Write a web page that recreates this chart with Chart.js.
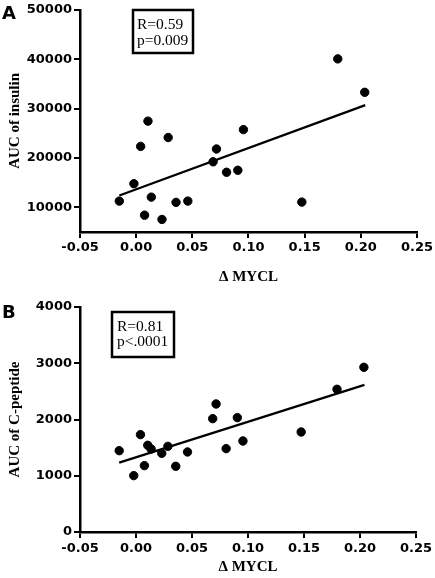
<!DOCTYPE html>
<html>
<head>
<meta charset="utf-8">
<script src="https://cdn.jsdelivr.net/npm/chart.js@4"></script>
<style>
  html, body { margin: 0; padding: 0; background: #fff; }
  .panel { position: absolute; left: 0; width: 435px; }
  #boxA { top: 0; height: 290px; }
  #boxB { top: 290px; height: 288px; }
</style>
</head>
<body>
<div class="panel" id="boxA"><canvas id="chartA"></canvas></div>
<div class="panel" id="boxB"><canvas id="chartB"></canvas></div>
<script>
// delta MYCL for each subject (same subjects in both panels)
const mycl = [-0.015, -0.002, 0.004, 0.0075, 0.0105, 0.0135, 0.023, 0.0285, 0.0355,
  0.046, 0.0685, 0.0715, 0.0805, 0.0905, 0.0955, 0.1475, 0.1795, 0.2035];
const aucInsulin = [11260, 14780, 22340, 8410, 27450, 12060, 7545, 24130, 11000,
  11260, 19220, 21810, 17100, 17500, 25730, 11060, 40060, 33290];
const aucCpeptide = [1446, 1002, 1731, 1180, 1541, 1476, 1399, 1523, 1168,
  1423, 2015, 2276, 1482, 2033, 1618, 1778, 2537, 2928];

// regression line ends
const fitX = [-0.015, 0.204];
const fitInsulin = [12400, 30700];
const fitCpeptide = [1235, 2614];

const xTicks = [-0.05, 0, 0.05, 0.10, 0.15, 0.20, 0.25];
const yTicksA = [10000, 20000, 30000, 40000, 50000];
const yTicksB = [0, 1000, 2000, 3000, 4000];

const statsA = ['R=0.59', 'p=0.009'];
const statsB = ['R=0.81', 'p<.0001'];

const tickFont = { family: '"DejaVu Sans", sans-serif', size: 13, weight: 'bold' };
const titleFont = { family: '"Liberation Serif", "Times New Roman", serif', size: 15, weight: 'bold' };

const panelDeco = {
  id: 'panelDeco',
  afterDraw(chart, args, o) {
    const ctx = chart.ctx;
    ctx.save();
    ctx.fillStyle = '#000';
    ctx.font = 'bold 18px "DejaVu Sans", sans-serif';
    ctx.textBaseline = 'alphabetic';
    ctx.textAlign = 'left';
    ctx.fillText(o.letter, 2, o.letterY);
    // stats box
    ctx.lineWidth = 2.5;
    ctx.strokeStyle = '#000';
    ctx.strokeRect(o.box[0], o.box[1], o.box[2], o.box[3]);
    ctx.font = '15.5px "Liberation Serif", "Times New Roman", serif';
    o.lines.forEach((t, i) => ctx.fillText(t, o.textX, o.textY[i]));
    ctx.restore();
  }
};

function makeChart(id, yVals, fitY, yTicks, yMin, yMax, yTitle, deco, lay) {
  const pts = mycl.map((x, i) => ({ x: x, y: yVals[i] }));
  const line = fitX.map((x, i) => ({ x: x, y: fitY[i] }));
  return new Chart(document.getElementById(id), {
    type: 'scatter',
    data: {
      datasets: [
        { data: pts, backgroundColor: '#000', borderColor: '#000', pointRadius: 4.2, pointHoverRadius: 4.2 },
        { type: 'line', data: line, borderColor: '#000', borderWidth: 2.3, pointRadius: 0, fill: false }
      ]
    },
    options: {
      responsive: true,
      maintainAspectRatio: false,
      animation: false,
      layout: { padding: { top: lay.top, right: 17, left: 0, bottom: 0 } },
      plugins: {
        legend: { display: false },
        tooltip: { enabled: false },
        panelDeco: deco
      },
      scales: {
        x: {
          type: 'linear',
          min: -0.05,
          max: 0.25,
          afterBuildTicks: s => { s.ticks = xTicks.map(v => ({ value: v })); },
          afterFit: s => { s.height = lay.xh; },
          ticks: {
            color: '#000',
            font: tickFont,
            padding: lay.xpad,
            maxRotation: 0,
            callback: v => v.toFixed(2)
          },
          grid: { drawOnChartArea: false, color: '#000', lineWidth: 2, tickLength: 6 },
          border: { color: '#000', width: 2.5 },
          title: {
            display: true,
            text: '\u0394 MYCL',
            color: '#000',
            font: titleFont,
            padding: { top: 0, bottom: lay.tpad }
          }
        },
        y: {
          min: yMin,
          max: yMax,
          afterBuildTicks: s => { s.ticks = yTicks.map(v => ({ value: v })); },
          afterFit: s => { s.width = 80; },
          ticks: {
            color: '#000',
            font: tickFont,
            padding: 2,
            callback: v => String(v)
          },
          grid: { drawOnChartArea: false, color: '#000', lineWidth: 2, tickLength: 6 },
          border: { color: '#000', width: 2.5 },
          title: {
            display: true,
            text: yTitle,
            color: '#000',
            font: titleFont,
            padding: { top: 6, bottom: 0 }
          }
        }
      }
    },
    plugins: [panelDeco]
  });
}

makeChart('chartA', aucInsulin, fitInsulin, yTicksA, 5000, 50000, 'AUC of insulin',
  { letter: 'A', letterY: 19, box: [133, 10, 60, 43], lines: statsA, textX: 137, textY: [29, 44.5] },
  { top: 7, xh: 58, xpad: 2, tpad: 4 });

makeChart('chartB', aucCpeptide, fitCpeptide, yTicksB, 0, 4000, 'AUC of C-peptide',
  { letter: 'B', letterY: 28, box: [112, 22, 62, 45], lines: statsB, textX: 117, textY: [41, 56] },
  { top: 17, xh: 46, xpad: 3, tpad: 2 });
</script>
</body>
</html>
